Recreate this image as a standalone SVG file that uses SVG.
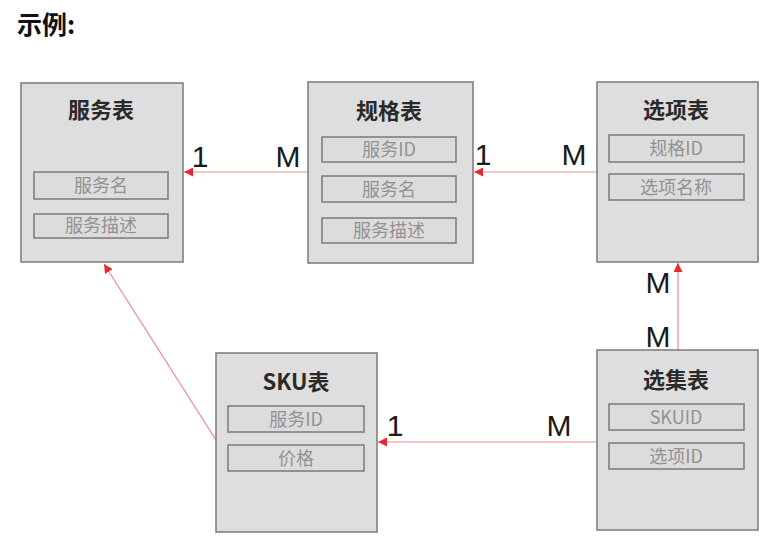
<svg xmlns="http://www.w3.org/2000/svg" width="783" height="545" viewBox="0 0 783 545">
<style>
.tbl{fill:#dedede;stroke:#7a7a7a;stroke-width:1.5}
.fld{fill:#dcdcdc;stroke:#7a7a7a;stroke-width:1.5}
.ttl{font-family:"Noto Sans CJK SC","Liberation Sans",sans-serif;font-size:22px;font-weight:bold;fill:#2a2a2a;text-anchor:middle}
.ft{font-family:"Noto Sans CJK SC","Liberation Sans",sans-serif;font-size:18px;fill:#929292;text-anchor:middle}
.lbl{font-family:"Liberation Sans","Noto Sans",sans-serif;font-size:30px;fill:#1a1a1a;text-anchor:middle}
.cn{fill:none;stroke:#ec8a8a;stroke-width:1.2}
</style>
<defs>
<marker id="ah" viewBox="0 0 10 10" refX="10" refY="5" markerWidth="9" markerHeight="9" markerUnits="userSpaceOnUse" orient="auto">
<path d="M0,0L10,5L0,10z" fill="#e8282c"/>
</marker>
</defs>
<rect width="783" height="545" fill="#ffffff"/>
<text x="17" y="34" font-family="'Noto Sans CJK SC',sans-serif" font-size="25" font-weight="bold" fill="#111">示例:</text>

<g id="connectors">
<line class="cn" x1="308" y1="172" x2="184" y2="172" marker-end="url(#ah)"/>
<line class="cn" x1="597" y1="172" x2="474" y2="172" marker-end="url(#ah)"/>
<line class="cn" x1="678" y1="350" x2="678" y2="263" marker-end="url(#ah)"/>
<line class="cn" x1="597" y1="442" x2="378" y2="442" marker-end="url(#ah)"/>
<line class="cn" x1="216" y1="440" x2="104" y2="264" marker-end="url(#ah)"/>
<text class="lbl" x="200" y="167">1</text>
<text class="lbl" x="288" y="167">M</text>
<text class="lbl" x="483" y="165">1</text>
<text class="lbl" x="574" y="165">M</text>
<text class="lbl" x="658" y="293">M</text>
<text class="lbl" x="658" y="347">M</text>
<text class="lbl" x="395" y="436">1</text>
<text class="lbl" x="559" y="436">M</text>
</g>

<g id="service">
<rect class="tbl" x="21" y="83" width="162" height="179"/>
<text class="ttl" x="101" y="118">服务表</text>
<rect class="fld" x="34" y="172" width="134" height="27"/>
<text class="ft" x="101" y="192">服务名</text>
<rect class="fld" x="34" y="214" width="134" height="24"/>
<text class="ft" x="101" y="232">服务描述</text>
</g>

<g id="spec">
<rect class="tbl" x="308" y="82" width="165" height="181"/>
<text class="ttl" x="389" y="119">规格表</text>
<rect class="fld" x="322" y="137" width="134" height="25"/>
<text class="ft" x="389" y="156">服务ID</text>
<rect class="fld" x="322" y="176" width="134" height="26"/>
<text class="ft" x="389" y="196">服务名</text>
<rect class="fld" x="322" y="218" width="134" height="25"/>
<text class="ft" x="389" y="237">服务描述</text>
</g>

<g id="option">
<rect class="tbl" x="597" y="82" width="161" height="180"/>
<text class="ttl" x="676" y="118">选项表</text>
<rect class="fld" x="609" y="135" width="135" height="27"/>
<text class="ft" x="676" y="155">规格ID</text>
<rect class="fld" x="609" y="174" width="135" height="26"/>
<text class="ft" x="676" y="194">选项名称</text>
</g>

<g id="sku">
<rect class="tbl" x="216" y="353" width="161" height="179"/>
<text class="ttl" x="296" y="390">SKU表</text>
<rect class="fld" x="228" y="406" width="136" height="26"/>
<text class="ft" x="296" y="426">服务ID</text>
<rect class="fld" x="228" y="445" width="136" height="26"/>
<text class="ft" x="296" y="465">价格</text>
</g>

<g id="selection">
<rect class="tbl" x="597" y="350" width="161" height="180"/>
<text class="ttl" x="676" y="388">选集表</text>
<rect class="fld" x="609" y="404" width="135" height="26"/>
<text class="ft" x="676" y="424">SKUID</text>
<rect class="fld" x="609" y="443" width="135" height="26"/>
<text class="ft" x="676" y="463">选项ID</text>
</g>
</svg>
